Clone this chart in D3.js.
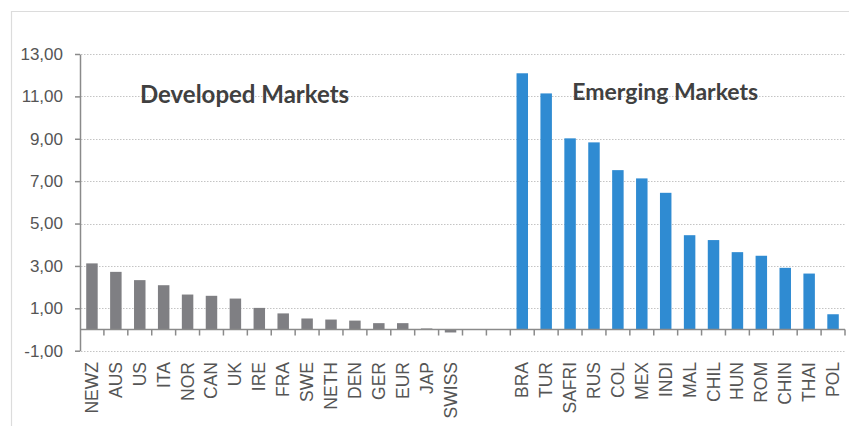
<!DOCTYPE html>
<html>
<head>
<meta charset="utf-8">
<script src="https://cdn.jsdelivr.net/npm/d3@7"></script>
<style>
html,body{margin:0;padding:0;background:#fff;}
svg{display:block;}
</style>
</head>
<body>
<svg id="chart" width="849" height="426"></svg>
<script>
const developedCategories = ["NEWZ","AUS","US","ITA","NOR","CAN","UK","IRE","FRA","SWE","NETH","DEN","GER","EUR","JAP","SWISS"];
const developedValues = [3.12,2.72,2.33,2.09,1.65,1.59,1.46,1.02,0.76,0.52,0.47,0.42,0.30,0.30,0.05,-0.14];
const emergingCategories = ["BRA","TUR","SAFRI","RUS","COL","MEX","INDI","MAL","CHIL","HUN","ROM","CHIN","THAI","POL"];
const emergingValues = [12.09,11.14,9.02,8.83,7.52,7.13,6.45,4.45,4.22,3.65,3.48,2.91,2.64,0.72];
const gapSlots = ["_gap1","_gap2"];
const yTicks = [-1,1,3,5,7,9,11,13];
const groupTitles = ["Developed Markets","Emerging Markets"];

(function(){
const svg = d3.select("#chart");
const W = 849, H = 426;
const mLeft = 80, mRight = 845, mTop = 54, mBottom = 350.7;

// frame
svg.append("path").attr("d", `M11.5,${H} V11.5 H${W}`).attr("fill","none").attr("stroke","#dcdcdc").attr("stroke-width",1.2);

const domain = developedCategories.concat(gapSlots, emergingCategories);
const pad = 0.52;
const x = d3.scaleBand().domain(domain).range([mLeft, mRight]).paddingInner(pad).paddingOuter(pad/2);
const y = d3.scaleLinear().domain([-1, 13]).range([mBottom, mTop]);

const data = developedCategories.map((c,i)=>({cat:c, v:developedValues[i], g:0}))
  .concat(emergingCategories.map((c,i)=>({cat:c, v:emergingValues[i], g:1})));

// gridlines
svg.append("g").selectAll("line").data(yTicks).join("line")
  .attr("x1", mLeft+1).attr("x2", mRight)
  .attr("y1", d=>Math.round(y(d))+0.5).attr("y2", d=>Math.round(y(d))+0.5)
  .attr("stroke","#c4c4c4").attr("stroke-width",1).attr("stroke-dasharray","1.5,1.5");

// bars
const colors = ["#7f7f83","#2f8bd2"];
svg.append("g").selectAll("rect").data(data).join("rect")
  .attr("x", d=>x(d.cat)).attr("width", x.bandwidth())
  .attr("y", d=>y(Math.max(0,d.v))).attr("height", d=>Math.abs(y(d.v)-y(0)))
  .attr("fill", d=>colors[d.g]);

// y axis
const fmt = d3.formatLocale({decimal:",", thousands:".", grouping:[3], currency:["",""], minus:"-"}).format(".2f");
const yAxis = svg.append("g").attr("transform",`translate(${mLeft},0)`)
  .call(d3.axisLeft(y).tickValues(yTicks).tickFormat(fmt).tickSize(5).tickPadding(12).tickSizeOuter(0));
yAxis.attr("font-family","Liberation Sans, Arial, sans-serif").attr("font-size",17);
yAxis.select(".domain").attr("stroke","#8a8a8a").attr("stroke-width",1.5);
yAxis.selectAll(".tick line").attr("stroke","#8a8a8a").attr("stroke-width",1.5);
yAxis.selectAll(".tick text").attr("fill","#555555");

// x axis baseline with boundary ticks
const y0 = y(0);
svg.append("line").attr("x1",mLeft).attr("x2",mRight).attr("y1",y0).attr("y2",y0).attr("stroke","#8a8a8a").attr("stroke-width",1.5);
const step = x.step();
const boundaries = d3.range(1, domain.length+1).map(i=>mLeft + i*step);
svg.append("g").selectAll("line").data(boundaries).join("line")
  .attr("x1",d=>d).attr("x2",d=>d).attr("y1",y0).attr("y2",y0+6)
  .attr("stroke","#8a8a8a").attr("stroke-width",1.5);

// category labels
svg.append("g").selectAll("text").data(data).join("text")
  .attr("transform", d=>`translate(${x(d.cat)+x.bandwidth()/2+6},362) rotate(-90)`)
  .attr("text-anchor","end")
  .attr("font-family","Liberation Sans, Arial, sans-serif").attr("font-size",17.5)
  .attr("fill","#555555")
  .text(d=>d.cat);

// group titles
const titleX = [x("ITA") - 18, x("SAFRI") + 8];
const titleY = [103, 100];
const titleSize = [24, 23];
svg.append("g").selectAll("text").data(groupTitles).join("text")
  .attr("x",(d,i)=>titleX[i]).attr("y",(d,i)=>titleY[i])
  .attr("font-family","Lato, Open Sans, sans-serif").attr("font-weight","bold").attr("font-size",(d,i)=>titleSize[i])
  .attr("fill","#404040")
  .text(d=>d);
})();
</script>
</body>
</html>
